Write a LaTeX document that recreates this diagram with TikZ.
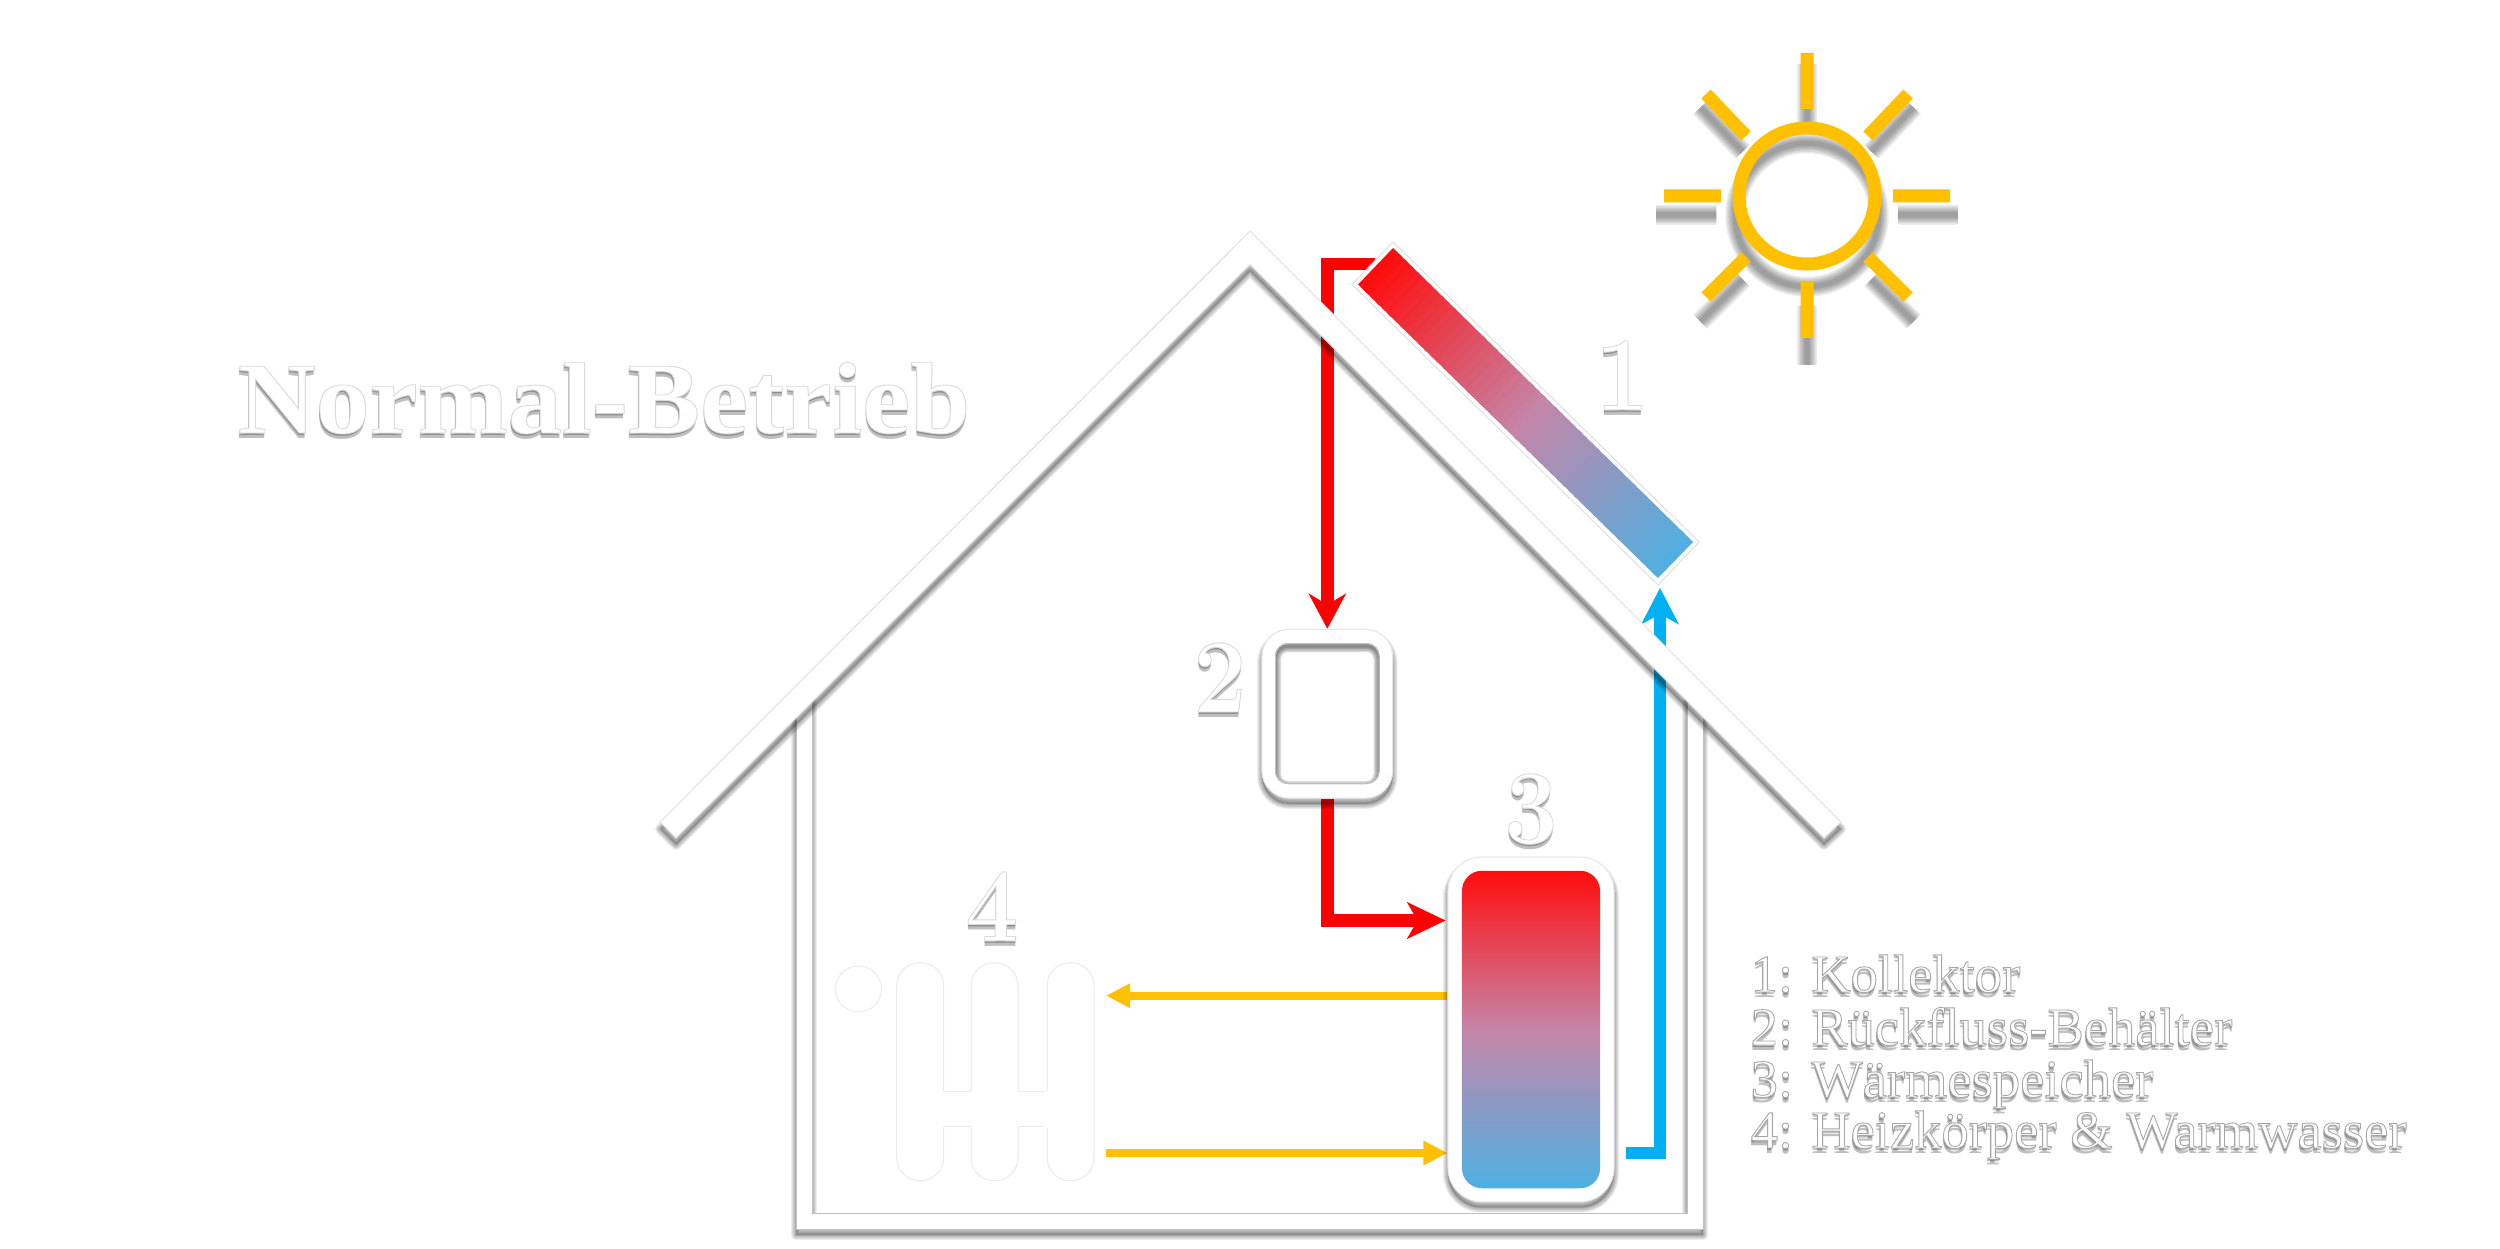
\documentclass[tikz,border=0pt]{standalone}
\usepackage{fontspec}
\usepackage{xcolor}
\usetikzlibrary{calc}
\usetikzlibrary{arrows.meta}
\usetikzlibrary{backgrounds}

\newfontfamily\signfont{Liberation Serif}

\definecolor{sunyellow}{HTML}{FFC000}
\definecolor{pipeblue}{HTML}{00B0F0}
\definecolor{hotred}{HTML}{FF0D0D}
\definecolor{midrose}{HTML}{C585A8}
\definecolor{coldblue}{HTML}{4DB0E2}

\tikzset{
 redpipe/.style={draw=red, line width=.125cm, -{Stealth[length=.35cm, width=.37cm, inset=.11cm]}},
 bluepipe/.style={draw=pipeblue, line width=.125cm, -{Stealth[length=.36cm, width=.37cm, inset=.1cm]}},
 yellowpipe/.style={draw=sunyellow, line width=.08cm, -{Triangle[length=.24cm, width=.23cm]}},
 whitepart/.style={fill=white, draw=black!12, line width=.01cm},
 digitlabel/.style={font=\fontsize{30}{36}\selectfont\bfseries, anchor=base, xscale=.9, inner sep=0pt},
 titlelabel/.style={font=\fontsize{29}{34}\selectfont\signfont\bfseries, anchor=base west, xscale=1.06, inner sep=0pt},
 legendlabel/.style={font=\fontsize{15.2}{18}\selectfont\signfont, anchor=base west, xscale=1.02, inner sep=0pt},
}

\newcommand{\softshadow}[2]{
 \path[shift={(0,#1)}, fill=black, opacity=.2] #2;
 \foreach \w in {2,4,6,8,10}{
  \path[shift={(0,#1)}, draw=black, opacity=.07, line join=round, line width=\w*.01cm] #2;
 }
}
% white letters with a thin grey rim over a soft drop shadow
\newcommand{\rimtext}[2]{\special{pdf:code 2 Tr #1 G .25 w}#2\special{pdf:code 0 Tr}}
\newcommand{\softlabel}[5]{
 \foreach \d in {.025,.05}{
  \node[#3, text=black, opacity=.25, yshift=-\d cm] at (#2) {#4};
 }
 \node[#3, text=white] (#1) at (#2) {\rimtext{#5}{#4}};
}
\def\sunpath{(0,0) circle [radius=68]
 (-143,0)--(-86,0) (143,0)--(86,0) (0,-143)--(0,-87) (0,142)--(0,86)
 (-101,-102)--(-61,-60) (101,-102)--(61,-60) (-101,101)--(-61,61) (101,101)--(61,61)}
\def\roofpath{(660,822)--(1250,231)--(1841,822)--(1824,838)--(1250,264.5)--(676,838)--cycle}
\def\wallpath{(796,695)--(796,1229)--(1703,1229)--(1703,695)--(1687,695)--(1687,1213)--(812,1213)--(812,695)--cycle}

\begin{document}
\begin{tikzpicture}[x=.01cm, y=-.01cm]
\useasboundingbox (0,0) rectangle (2500,1249);

\softshadow{6}{\wallpath}
\draw[whitepart, draw=black!25] \wallpath;

\softlabel{title}{237,433}{titlelabel}{Normal-Betrieb}{.85}
\softlabel{one}{1622,410}{digitlabel}{1}{.85}
\softlabel{two}{1220,712}{digitlabel}{2}{.85}
\softlabel{three}{1531,843}{digitlabel}{3}{.85}
\softlabel{four}{992,941}{digitlabel}{4}{.85}
\softlabel{legendone}{1750,992}{legendlabel}{1: Kollektor}{.65}
\softlabel{legendtwo}{1750,1045}{legendlabel}{2: Rückfluss-Behälter}{.65}
\softlabel{legendthree}{1750,1097}{legendlabel}{3: Wärmespeicher}{.65}
\softlabel{legendfour}{1750,1148}{legendlabel}{4: Heizkörper \& Warmwasser}{.65}

% sun
\begin{scope}[shift={(1807,215)}, scale=1.055]
 \foreach \w in {5,8,11,14,17,20}{
  \draw[black, opacity=.075, line width=\w*.01cm] \sunpath;
 }
\end{scope}
\begin{scope}[shift={(1807,196)}]
 \draw[sunyellow, line width=.13cm] \sunpath;
\end{scope}

% radiator
\draw[whitepart, draw=black!8] (858.5,989) circle [radius=23];
\foreach \x in {896.7,971,1047}{
 \draw[whitepart, draw=black!8, rounded corners=.23cm] (\x,962.7) rectangle ++(47,218);
}
\fill[white] (898,1091) rectangle (1093,1126.7);
\foreach \x in {943.7,1018}{
 \draw[black!8, line width=.01cm] (\x,1091)--++(27.3,0) (\x,1126.7)--++(27.3,0);
}

% storage tank
\softshadow{6}{[rounded corners=.34cm] (1448,857) rectangle (1614,1201.7)}
\node[whitepart, draw=black!10, rounded corners=.34cm, minimum width=1.66cm, minimum height=3.447cm, inner sep=0pt] (tank) at (1531,1029.5) {};
\node[rounded corners=.2cm, top color=hotred, bottom color=coldblue, middle color=midrose, minimum width=1.38cm, minimum height=3.173cm, inner sep=0pt] (tankcore) at (tank.center) {};

% return vessel
\softshadow{6}{[rounded corners=.27cm] (1262,629.3) rectangle (1392.6,798)}
\node[whitepart, draw=black!10, rounded corners=.27cm, minimum width=1.306cm, minimum height=1.687cm, inner sep=0pt] (vessel) at (1327.3,713.7) {};
\begin{scope}
 \clip[rounded corners=.13cm] (1275,643) rectangle (1379.6,784);
 \foreach \w in {3,6,9,12}{
  \draw[black, opacity=.14, rounded corners=.13cm, line width=\w*.01cm] (1275,646) rectangle (1379.6,787);
 }
 \draw[black!25, rounded corners=.13cm, line width=.02cm] (1275,643) rectangle (1379.6,784);
\end{scope}

% collector
\coordinate (panelA) at (1393,248);
\coordinate (panelB) at (1358,284.5);
\coordinate (panelC) at (1658,578);
\coordinate (panelD) at (1693,542);
\coordinate (panelin) at (1375,264);
\coordinate (panelout) at (1660,588);
\draw[whitepart] (1393,242)--(1352,284.5)--(1658,585)--(1699,542)--cycle;
\foreach \p in {0,2,...,98}{
 \pgfmathsetmacro\t{\p/100}
 \pgfmathsetmacro\u{min(1,\t+.03)}
 \ifnum\p<50
  \pgfmathtruncatemacro\q{2*\p}
  \colorlet{stripcolor}{midrose!\q!hotred}
 \else
  \pgfmathtruncatemacro\q{2*\p-100}
  \colorlet{stripcolor}{coldblue!\q!midrose}
 \fi
 \fill[stripcolor] ($(panelA)!\t!(panelD)$)--($(panelB)!\t!(panelC)$)--($(panelB)!\u!(panelC)$)--($(panelA)!\u!(panelD)$)--cycle;
}

% roof
\softshadow{7}{\roofpath}
\draw[whitepart] \roofpath;

\coordinate (coldstart) at (1626,1153);
\coordinate (redin) at ($(tank.west |- 0,920.5)+(-2,0)$);
\coordinate (radtop) at (1106,995.7);
\coordinate (radbottom) at (1106,1153);

\begin{scope}[on background layer]
 \fill[white] (0,0) rectangle (2500,1249);
 \draw[redpipe] (panelin) -| (vessel.north);
 \draw[redpipe, -{Stealth[length=.38cm, width=.36cm, inset=.1cm]}] (vessel.south) |- (redin);
 \draw[bluepipe] (coldstart) -| (panelout);
 \draw[yellowpipe] (tank.west |- radtop) -- (radtop);
 \draw[yellowpipe] (radbottom) -- (tank.west |- radbottom);
\end{scope}
\end{tikzpicture}
\end{document}
